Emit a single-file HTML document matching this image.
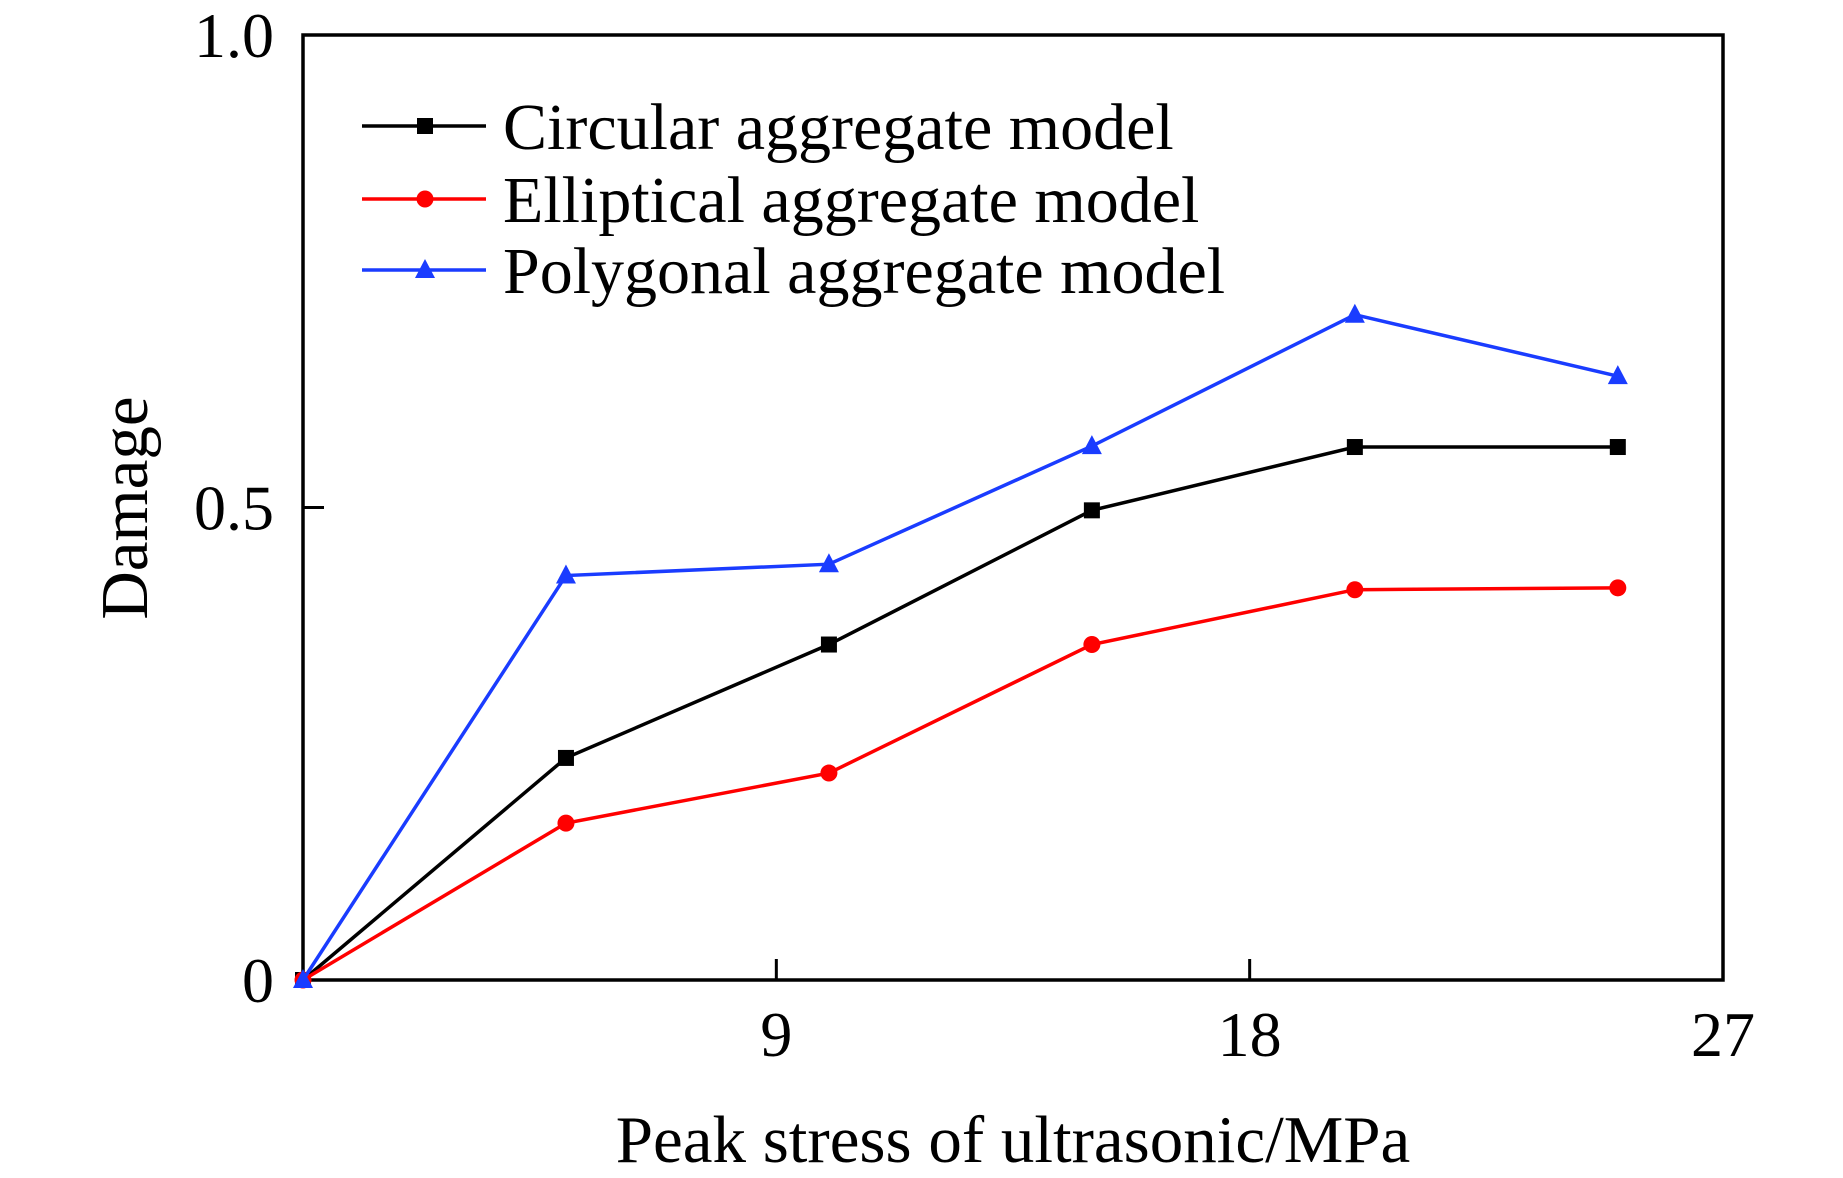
<!DOCTYPE html>
<html><head><meta charset="utf-8"><style>
html,body{margin:0;padding:0;background:#fff;}
svg{display:block;font-family:"Liberation Serif",serif;}
</style></head><body>
<svg id="chart" width="1843" height="1178" viewBox="0 0 1843 1178">
<rect x="303" y="35" width="1420" height="945" fill="none" stroke="#000" stroke-width="3.5"/>
<g id="axes"></g>
<g id="series"></g>
<g id="legend"></g>
<text x="1013" y="1162" font-size="67" text-anchor="middle">Peak stress of ultrasonic/MPa</text>
<text transform="translate(147,508) rotate(-90)" font-size="67" text-anchor="middle">Damage</text>
</svg>
<script>
const xValues = [0, 5, 10, 15, 20, 25];
const circular = [0, 0.235, 0.355, 0.497, 0.564, 0.564];
const elliptical = [0, 0.166, 0.219, 0.355, 0.413, 0.415];
const polygonal = [0, 0.428, 0.44, 0.565, 0.704, 0.639];
const xTicks = [9, 18, 27];
const xTickLabels = ["9", "18", "27"];
const yTicks = [0, 0.5, 1.0];
const yTickLabels = ["0", "0.5", "1.0"];
const seriesNames = ["Circular aggregate model", "Elliptical aggregate model", "Polygonal aggregate model"];

const NS = "http://www.w3.org/2000/svg";
const L = 303, R = 1723, T = 35, B = 980;
function sx(v){ return L + (v - 0) / 27 * (R - L); }
function sy(v){ return B - (v - 0) / 1 * (B - T); }
function mk(tag, attrs, parent){ const e = document.createElementNS(NS, tag); for (const k in attrs) e.setAttribute(k, attrs[k]); parent.appendChild(e); return e; }

const axes = document.getElementById("axes");
xTicks.forEach((t, i) => {
  if (t < 27) {
    const ln = mk("line", {x1: sx(t), x2: sx(t), y1: B, y2: B - 21, stroke: "#000", "stroke-width": 3}, axes);
    
    
  }
  const tx = mk("text", {x: sx(t), y: 1056, "font-size": 64, "text-anchor": "middle"}, axes);
  tx.textContent = xTickLabels[i];
  
  
});
yTicks.forEach((t, i) => {
  if (t > 0 && t < 1) {
    const ln = mk("line", {x1: L, x2: L + 21, y1: sy(t), y2: sy(t), stroke: "#000", "stroke-width": 3}, axes);
    
    
  }
  const tx = mk("text", {x: 274, y: sy(t) + 22, "font-size": 64, "text-anchor": "end"}, axes);
  tx.textContent = yTickLabels[i];
  
  
});

function marker(g, type, x, y, color){
  let m;
  if (type === "square") m = mk("rect", {x: x - 8, y: y - 8, width: 16, height: 16, fill: color}, g);
  else if (type === "circle") m = mk("circle", {cx: x, cy: y, r: 8.5, fill: color}, g);
  else m = mk("polygon", {points: `${x},${y-11} ${x-10},${y+8} ${x+10},${y+8}`, fill: color}, g);
  return m;
}

const seriesG = document.getElementById("series");
const defs = [
  {name: "circular", data: circular, color: "#000000", m: "square"},
  {name: "elliptical", data: elliptical, color: "#ff0000", m: "circle"},
  {name: "polygonal", data: polygonal, color: "#1a3cff", m: "triangle"}
];
defs.forEach(s => {
  const g = mk("g", {}, seriesG);
  
  
  const pts = s.data.map((v, i) => sx(xValues[i]) + "," + sy(v)).join(" ");
  const pl = mk("polyline", {points: pts, fill: "none", stroke: s.color, "stroke-width": 3.5}, g);
  
  
  s.data.forEach((v, i) => {
    const m = marker(g, s.m, sx(xValues[i]), sy(v), s.color);
    
    
  });
});

const legend = document.getElementById("legend");
const legY = [126, 199, 270];
defs.forEach((s, i) => {
  const g = mk("g", {}, legend);
  
  
  mk("line", {x1: 362, x2: 486, y1: legY[i], y2: legY[i], stroke: s.color, "stroke-width": 3.5}, g);
  marker(g, s.m, 425, legY[i], s.color);
  const t = mk("text", {x: 503, y: legY[i] + 23, "font-size": 66}, g);
  t.textContent = seriesNames[i];
});
</script>
</body></html>
